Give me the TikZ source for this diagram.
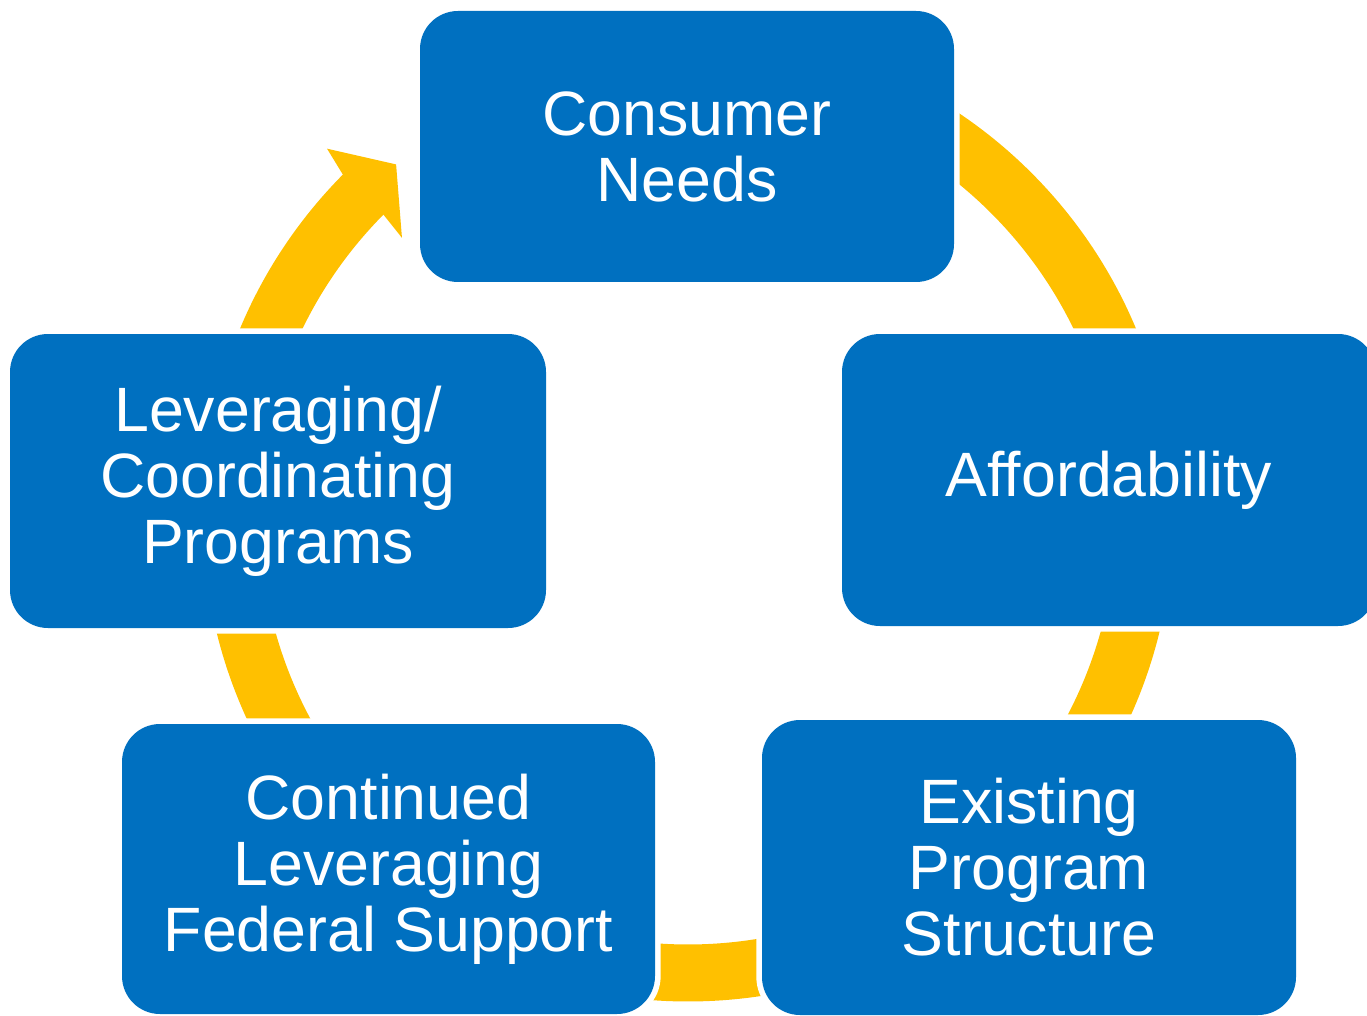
\documentclass[tikz,border=0pt]{standalone}
\usepackage{fontspec}
\setmainfont{Liberation Sans}
\definecolor{boxblue}{HTML}{0070C0}
\definecolor{ringgold}{HTML}{FFC000}
\tikzset{
  cyclebox/.style={rounded corners=28.5pt, fill=boxblue, inner sep=0pt,
    preaction={draw=white, line width=8.5pt},
    text=white, align=center,
    font=\fontsize{47}{49.5}\selectfont},
  ring/.style={draw=ringgold, line width=42.75pt},
  ringhead/.style={fill=ringgold}
}
\begin{document}
\begin{tikzpicture}[x=0.75pt, y=-0.75pt]
\useasboundingbox (0,0) rectangle (1367,1016);
\clip (0,0) rectangle (1367,1016);
\coordinate (c) at (688,516);
% ring
\draw[ring] (c) ++(225.6:457) arc[start angle=225.6, end angle=-90, radius=457];
\fill[ringhead, shift={(688,516)}] (224.7:485.8) -- (225.5:515) -- (230.3:457) -- (224.2:399) -- (224.7:428.5) -- cycle;
% boxes
\node[cyclebox, minimum width=400.5pt, minimum height=203.25pt] (needs) at (687,146.5) {Consumer\\Needs};
\node[cyclebox, minimum width=400.5pt, minimum height=219pt] (afford) at (1109,480) {Affordability};
\node[cyclebox, minimum width=400.5pt, minimum height=221.25pt] (exist) at (1029,867.5) {Existing\\Program\\Structure};
\node[cyclebox, minimum width=399.75pt, minimum height=217.5pt] (contin) at (388.5,869) {Continued\\Leveraging\\Federal Support};
\node[cyclebox, minimum width=402pt, minimum height=220.5pt] (lever) at (278,481) {Leveraging/\\Coordinating\\Programs};
\end{tikzpicture}
\end{document}
